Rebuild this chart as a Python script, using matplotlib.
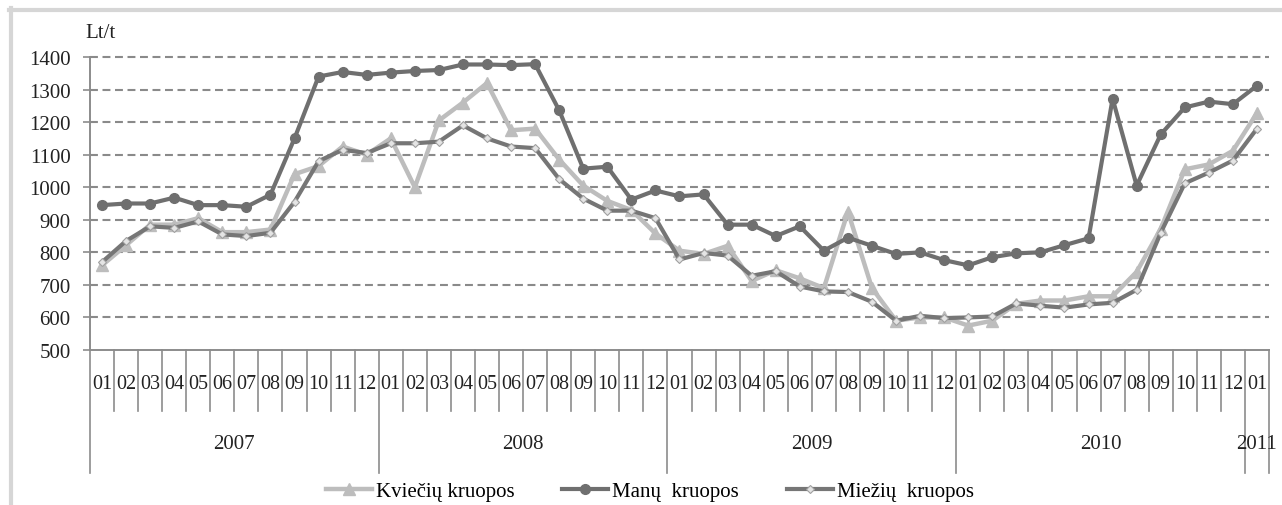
"""
Monthly prices of groats (Lt/t), 2007-01 .. 2011-01.
Three series on a two-level month / year category axis.
"""

import matplotlib
matplotlib.use("Agg")
import matplotlib.pyplot as plt
import matplotlib.transforms as mtransforms
from matplotlib.lines import Line2D

W, H, DPI = 1282, 506, 100
FONT = "Liberation Serif"

# ----- data -----
MONTHS = ["01", "02", "03", "04", "05", "06", "07", "08", "09", "10", "11", "12"] * 4 + ["01"]
YEARS = ["2007", "2008", "2009", "2010", "2011"]
YEAR_START = [0, 12, 24, 36, 48]   # first month index of every year
YEAR_LEN = [12, 12, 12, 12, 1]

SERIES_NAMES = ["Kviečių kruopos", "Manų  kruopos", "Miežių  kruopos"]

KVIECIU = [
    760, 822, 885, 885, 905, 862, 862, 870, 1040, 1065, 1125, 1100,
    1150, 1000, 1205, 1260, 1320, 1175, 1180, 1085, 1005, 958, 930, 858,
    805, 795, 820, 712, 745, 720, 690, 925, 690, 590, 600, 600,
    575, 590, 642, 652, 652, 665, 665, 740, 872, 1055, 1070, 1112,
    1228,
]
MANU = [
    945, 950, 950, 968, 945, 945, 940, 977, 1150, 1340, 1354, 1345,
    1352, 1357, 1360, 1377, 1377, 1375, 1378, 1236, 1057, 1063, 962, 990,
    972, 978, 885, 885, 850, 880, 805, 845, 820, 795, 800, 776,
    760, 785, 797, 800, 822, 843, 1272, 1005, 1162, 1245, 1263, 1255,
    1312,
]
MIEZIU = [
    770, 835, 880, 875, 895, 855, 850, 860, 955, 1080, 1115, 1105,
    1135, 1135, 1140, 1190, 1150, 1125, 1120, 1025, 965, 928, 928, 905,
    778, 798, 790, 728, 742, 695, 680, 678, 648, 590, 605, 598,
    600, 603, 643, 636, 630, 640, 645, 685, 860, 1012, 1045, 1082,
    1180,
]

Y_TICKS = [500, 600, 700, 800, 900, 1000, 1100, 1200, 1300, 1400]


def px_x(p):
    return p / W


def px_y(p):
    return 1 - p / H


def draw_series(ax):
    x = list(range(len(MONTHS)))
    h1, = ax.plot(x, KVIECIU, color="#bdbdbd", lw=3.2, marker="^", ms=8,
                  mfc="#bdbdbd", mec="#bdbdbd", zorder=3,
                  solid_joinstyle="round")
    h2, = ax.plot(x, MANU, color="#6f6f6f", lw=3.0, marker="o", ms=7,
                  mfc="#6f6f6f", mec="#6f6f6f", zorder=4,
                  solid_joinstyle="round")
    h3, = ax.plot(x, MIEZIU, color="#767676", lw=3.0, marker="D", ms=4,
                  mfc="#e4e4e4", mec="#a0a0a0", mew=0.8, zorder=5,
                  solid_joinstyle="round")
    return [h1, h2, h3]


def draw_category_axis(ax):
    n = len(MONTHS)
    trans = mtransforms.blended_transform_factory(ax.transData, ax.transAxes)
    axis_h = 351 - 58
    month_sep_bottom = (351 - 412) / axis_h
    year_sep_bottom = (351 - 474) / axis_h
    month_y = (351 - 385) / axis_h
    year_y = (351 - 445) / axis_h

    year_edges = set(YEAR_START) | {n}
    for k in range(n + 1):
        xb = k - 0.5
        bottom = year_sep_bottom if k in year_edges else month_sep_bottom
        ax.add_line(Line2D([xb, xb], [0, bottom], transform=trans,
                           color="#8c8c8c", lw=1.2, clip_on=False))

    for i, lab in enumerate(MONTHS):
        ax.text(i, month_y, lab, transform=trans, ha="center", va="center",
                fontsize=14.5, family=FONT, color="#222")

    for lab, s, ln in zip(YEARS, YEAR_START, YEAR_LEN):
        ax.text(s + (ln - 1) / 2, year_y, lab, transform=trans,
                ha="center", va="center", fontsize=15, family=FONT,
                color="#222")


def main():
    fig = plt.figure(figsize=(W / DPI, H / DPI), dpi=DPI)
    ax = fig.add_axes([px_x(90), px_y(351), px_x(1269 - 90), (351 - 58) / H])

    handles = draw_series(ax)

    ax.set_xlim(-0.5, len(MONTHS) - 0.5)
    ax.set_ylim(500, 1400)
    ax.set_yticks(Y_TICKS)
    ax.set_yticklabels([str(v) for v in Y_TICKS], family=FONT, fontsize=15,
                       color="#222")
    ax.set_xticks([])
    ax.tick_params(axis="y", length=5, width=1.2, color="#8c8c8c", pad=9)

    for v in Y_TICKS[1:]:
        ax.axhline(v, color="#8a8a8a", lw=1.5, ls=(0, (3.8, 2.2)), zorder=1,
                   clip_on=False)

    for side in ("top", "right"):
        ax.spines[side].set_visible(False)
    for side in ("left", "bottom"):
        ax.spines[side].set_color("#8c8c8c")
        ax.spines[side].set_linewidth(1.4)

    draw_category_axis(ax)

    fig.text(px_x(85), px_y(33), "Lt/t", ha="left", va="center",
             fontsize=15, family=FONT, color="#222")

    fig.legend(handles, SERIES_NAMES, loc="center",
               bbox_to_anchor=(px_x(650), px_y(492)), ncol=3, frameon=False,
               prop={"family": FONT, "size": 15}, handlelength=2.2,
               handletextpad=0.2, columnspacing=2.3, borderpad=0)

    # light frame of the original chart box
    fig.add_artist(Line2D([px_x(9), 1], [px_y(11), px_y(11)],
                          transform=fig.transFigure, color="#d6d6d6", lw=3))
    fig.add_artist(Line2D([px_x(11), px_x(11)], [0, px_y(9)],
                          transform=fig.transFigure, color="#d6d6d6", lw=3))

    fig.savefig("out.png", dpi=DPI)


if __name__ == "__main__":
    main()
